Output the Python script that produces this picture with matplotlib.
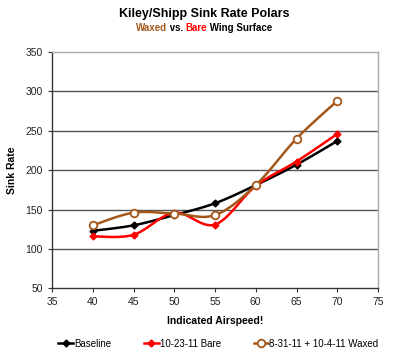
import numpy as np
import matplotlib
matplotlib.use("Agg")
import matplotlib.pyplot as plt
from matplotlib.lines import Line2D

plt.rcParams['font.family'] = ['Liberation Sans', 'DejaVu Sans']

airspeed = [40, 45, 50, 55, 60, 65, 70]
baseline = [123, 130, 143, 158, 181, 207, 237]
bare = [116, 118, 146, 131, 180, 211, 246]
waxed = [130, 146, 145, 143, 181, 240, 288]

labels = ["Baseline", "10-23-11 Bare", "8-31-11 + 10-4-11 Waxed"]
colors = ["#000000", "#FF0000", "#A5571A"]
brown = "#A5571A"


def smooth(x, y, n=20):
    x = np.asarray(x, float)
    y = np.asarray(y, float)
    px = np.concatenate([[x[0]], x, [x[-1]]])
    py = np.concatenate([[y[0]], y, [y[-1]]])
    xs, ys = [], []
    t = np.linspace(0, 1, n)
    for i in range(1, len(px) - 2):
        p0, p1, p2, p3 = (np.array([px[j], py[j]]) for j in (i - 1, i, i + 1, i + 2))
        c1 = p1 + (p2 - p0) / 6.0
        c2 = p2 - (p3 - p1) / 6.0
        b = ((1 - t) ** 3)[:, None] * p1 + (3 * (1 - t) ** 2 * t)[:, None] * c1 \
            + (3 * (1 - t) * t ** 2)[:, None] * c2 + (t ** 3)[:, None] * p2
        xs.extend(b[:, 0]); ys.extend(b[:, 1])
    return np.array(xs), np.array(ys)


fig = plt.figure(figsize=(4.0, 3.56), dpi=100)
ax = fig.add_axes([0.13, 0.19, 0.815, 0.664])

for yv in [100, 150, 200, 250, 300]:
    ax.axhline(yv, color="#555555", lw=1.0, zorder=1)

series = [baseline, bare, waxed]
for vals, c, lab in zip(series, colors, labels):
    sx, sy = smooth(airspeed, vals)
    ax.plot(sx, sy, color=c, lw=1.8, zorder=3)
    if c == brown:
        ax.plot(airspeed, vals, ls="none", marker="o", ms=5.5, mfc="white",
                mec=c, mew=1.3, zorder=4)
    else:
        ax.plot(airspeed, vals, ls="none", marker="D", ms=3.5, color=c, zorder=4)

ax.set_xlim(35, 75)
ax.set_ylim(50, 350)
ax.set_xticks(range(35, 80, 5))
ax.set_yticks(range(50, 400, 50))
ax.tick_params(labelsize=7.5, length=3, width=0.8, color="#333333", labelcolor="#222222")
for s in ["top", "right"]:
    ax.spines[s].set_color("#AAAAAA")
    ax.spines[s].set_linewidth(1.0)
for s in ["left", "bottom"]:
    ax.spines[s].set_color("#333333")
    ax.spines[s].set_linewidth(1.0)

ax.set_xlabel("Indicated Airspeed!", fontsize=7.5, fontweight="bold", labelpad=6)
ax.set_ylabel("Sink Rate", fontsize=7.5, fontweight="bold", labelpad=6)

fig.text(0.51, 0.962, "Kiley/Shipp Sink Rate Polars", ha="center", va="center",
         fontsize=9, fontweight="bold")

# subtitle with coloured words
parts = [("Waxed", brown), (" vs. ", "black"), ("Bare", "red"), (" Wing Surface", "black")]
renderer = fig.canvas.get_renderer()
texts = []
widths = []
for s, c in parts:
    t = fig.text(0, 0.922, s, fontsize=7, fontweight="bold", color=c, va="center")
    bb = t.get_window_extent(renderer=renderer)
    texts.append(t)
    widths.append(bb.width)
total = sum(widths)
x0 = (400 * 0.51 - total / 2)
for t, w in zip(texts, widths):
    t.set_x(x0 / 400)
    x0 += w

handles = [
    Line2D([], [], color="black", lw=1.8, marker="D", ms=3.5),
    Line2D([], [], color="red", lw=1.8, marker="D", ms=3.5),
    Line2D([], [], color=brown, lw=1.8, marker="o", ms=5.5, mfc="white", mec=brown, mew=1.3),
]
fig.legend(handles, labels, loc="center", bbox_to_anchor=(0.546, 0.035), ncol=3,
           frameon=False, fontsize=7, handlelength=1.5, handletextpad=0.1,
           columnspacing=3.4)

fig.savefig("out.png", dpi=100)
